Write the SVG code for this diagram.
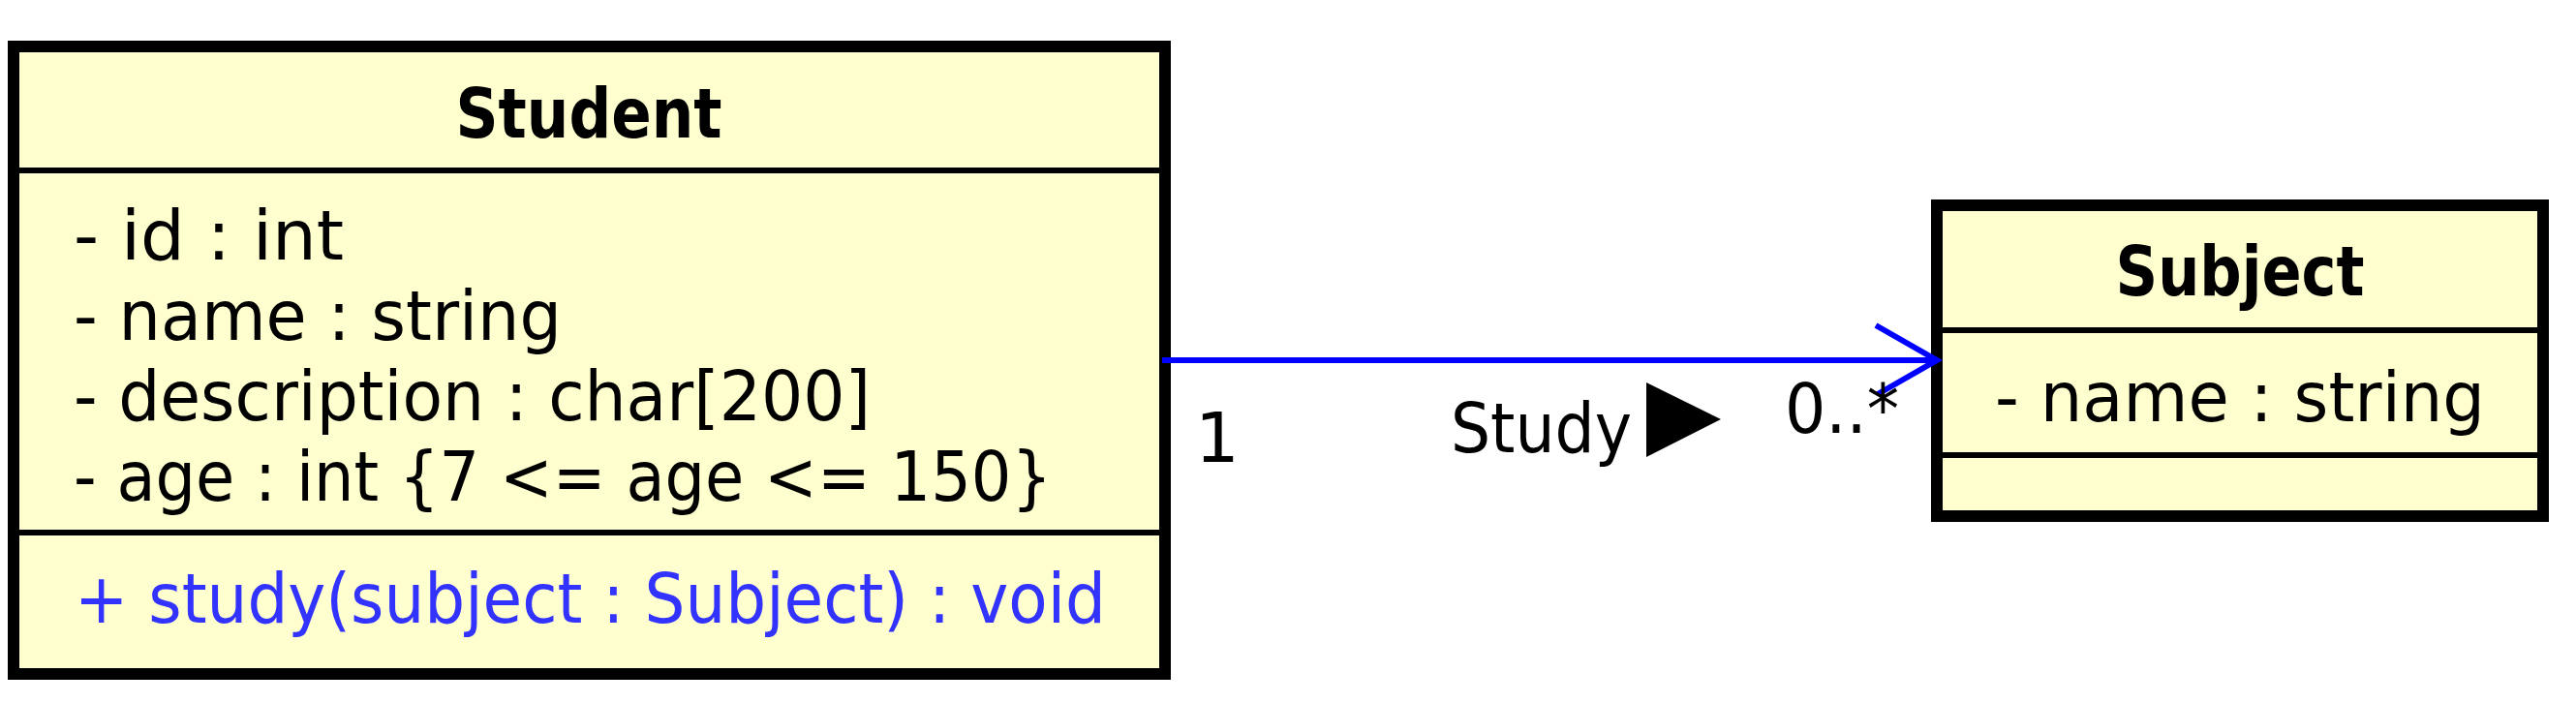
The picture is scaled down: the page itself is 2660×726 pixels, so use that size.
<svg xmlns="http://www.w3.org/2000/svg" width="2660" height="726" viewBox="0 0 2660 726">
<style>
.box{fill:#FEFECE;stroke:#000;stroke-width:12}
.div{stroke:#000;stroke-width:6}
.t{font-family:"DejaVu Sans","Liberation Sans",sans-serif;font-size:72px;fill:#000}
.b{font-weight:bold;text-anchor:middle}
.m{fill:#3333FF}
.conn{stroke:#0000FF;stroke-width:6;fill:none}
</style>
<rect width="2660" height="726" fill="#FFFFFF"/>
<g id="Student">
<rect class="box" x="14" y="48" width="1189" height="648"/>
<line class="div" x1="20" y1="176" x2="1197" y2="176"/>
<line class="div" x1="20" y1="550" x2="1197" y2="550"/>
<text class="t b" x="608" y="142" textLength="275" lengthAdjust="spacingAndGlyphs">Student</text>
<text class="t" x="76" y="268" textLength="279" lengthAdjust="spacingAndGlyphs">- id : int</text>
<text class="t" x="76" y="351" textLength="504" lengthAdjust="spacingAndGlyphs">- name : string</text>
<text class="t" x="76" y="434" textLength="823" lengthAdjust="spacingAndGlyphs">- description : char[200]</text>
<text class="t" x="76" y="517" textLength="1010" lengthAdjust="spacingAndGlyphs">- age : int {7 &lt;= age &lt;= 150}</text>
<text class="t m" x="77" y="643" textLength="1065" lengthAdjust="spacingAndGlyphs">+ study(subject : Subject) : void</text>
</g>
<g id="Subject">
<rect class="box" x="2000" y="212" width="626" height="321"/>
<line class="div" x1="2006" y1="341" x2="2620" y2="341"/>
<line class="div" x1="2006" y1="470" x2="2620" y2="470"/>
<text class="t b" x="2313" y="305" textLength="257" lengthAdjust="spacingAndGlyphs">Subject</text>
<text class="t" x="2060" y="435" textLength="506" lengthAdjust="spacingAndGlyphs">- name : string</text>
</g>
<g id="connectors">
<line class="conn" x1="1200" y1="372" x2="1999" y2="372"/>
<polyline class="conn" points="1937,336 2000,372 1939,407"/>
<text class="t" x="1234" y="477">1</text>
<text class="t" x="1498" y="467" textLength="187" lengthAdjust="spacingAndGlyphs">Study</text>
<polygon points="1700,395 1777,433 1700,472" fill="#000"/>
<text class="t" x="1843" y="447" textLength="118" lengthAdjust="spacingAndGlyphs">0..*</text>
</g>
</svg>
